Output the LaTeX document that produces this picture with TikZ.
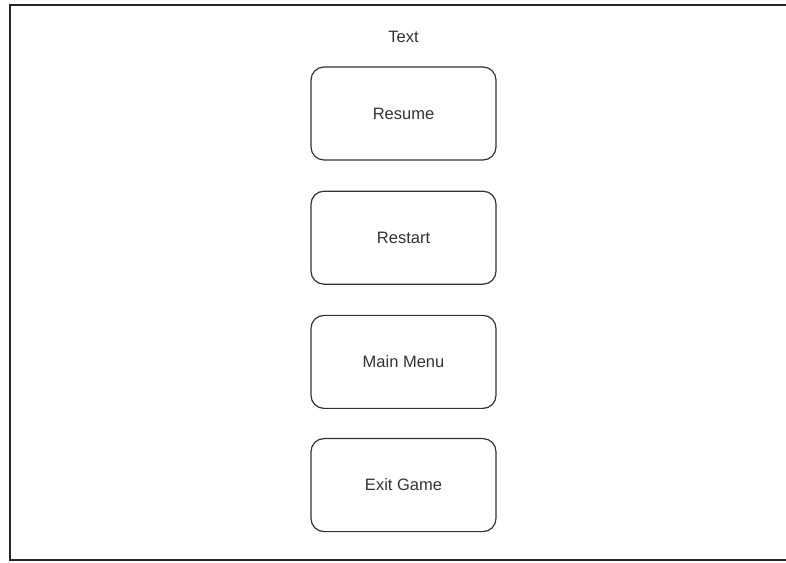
\documentclass[tikz,border=0pt]{standalone}
\usepackage{fontspec}
\setmainfont{Liberation Sans}
\usetikzlibrary{positioning}
\definecolor{edge}{HTML}{333333}

\begin{document}
\begin{tikzpicture}[x=1pt, y=1pt, font=\fontsize{16.5}{20}\selectfont, node distance=30pt,
    btn/.style={draw=edge, line width=1.2pt, rounded corners=13pt, minimum width=185pt, minimum height=93pt, text=black!80},
    lbl/.style={text=black!80}]
  \useasboundingbox (0,0) rectangle (786,562);
  \draw[line width=1.4pt, black!85] (786,557) -- (10,557) -- (10,2) -- (786,2);

  \node[lbl] (title) at (403.5,525) {Text};
  \node[btn] (resume) at (403.5,448.5) {Resume};
  \node[btn, below=30pt of resume] (restart) {Restart};
  \node[btn, below=30pt of restart] (mainmenu) {Main Menu};
  \node[btn, below=29pt of mainmenu] (exitgame) {Exit Game};
\end{tikzpicture}
\end{document}
